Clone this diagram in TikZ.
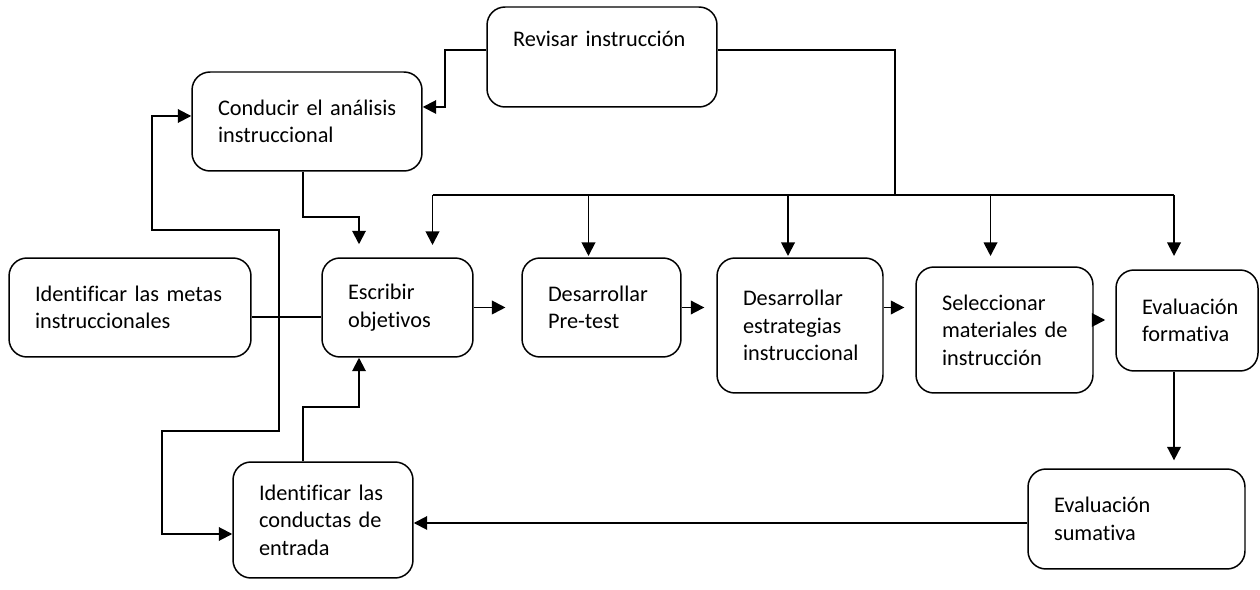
\documentclass[tikz,border=0pt]{standalone}
\usepackage{fontspec}
\setmainfont{Carlito}[Ligatures=NoCommon]
\usetikzlibrary{arrows.meta}
\hyphenpenalty=10000
\exhyphenpenalty=10000
\def\pxu{0.02cm}

\begin{document}
\begin{tikzpicture}
		[x=0.02cm, y=-0.02cm, >={Triangle[length=0.27cm, width=0.27cm]},
		 box/.style={draw, line width=0.85pt, rounded corners=0.36cm, align=left, inner xsep=0.52cm, inner ysep=2pt, font=\fontsize{12.7}{15.6}\selectfont},
		 link/.style={line width=1.1pt},
		 arr/.style={link, ->}]
		\useasboundingbox (0,0) rectangle (1260,590);

		% draw the boxes
		\node[box, text width=3.56cm, minimum height=2cm] (rev) at (602,57) {Revisar~instrucción\\\strut};
		\node[box, text width=3.56cm, minimum height=1.98cm] (cond) at (307,121.5) {Conducir~el~análisis\\instruccional};
		\node[box, text width=3.8cm, minimum height=1.98cm] (metas) at (130,307.5) {Identificar~las~metas\\instruccionales};
		\node[box, text width=1.98cm, minimum height=1.98cm] (escr) at (397.5,307.5) {Escribir\\objetivos};
		\node[box, text width=2.14cm, minimum height=1.98cm] (pre) at (601.5,307.5) {Desarrollar\\Pre-test};
		\node[box, text width=2.28cm, minimum height=2.7cm] (estr) at (800,325.5) {Desarrollar\\estrategias\\instruccional};
		\node[box, text width=2.5cm, minimum height=2.52cm] (sel) at (1004.5,330) {Seleccionar\\materiales~de\\instrucción};
		\node[box, text width=1.8cm, minimum height=2.02cm] (form) at (1187,320.5) {Evaluación\\formativa};
		\node[box, text width=2.56cm, minimum height=2.32cm] (ent) at (323,520) {Identificar~las\\conductas~de\\entrada};
		\node[box, text width=3.3cm, minimum height=2cm] (sum) at (1136.5,519) {Evaluación\\sumativa};

		% revision goes back to the analysis and down to the bus
		\coordinate (bus) at (895,195);
		\draw[arr] ([yshift=7*\pxu]rev.west) -- ++(-41,0) |- ([yshift=14.5*\pxu]cond.east);
		\draw[link] ([yshift=7*\pxu]rev.east) -| (bus);
		\draw[link] ([xshift=35*\pxu]escr.north |- bus) -- ([xshift=-13*\pxu]form.north |- bus);
		\foreach \n/\dx/\len in {escr/35/50, pre/-13/61, estr/-12/61, sel/-14/61, form/-13/61}
			\draw[arr] ([xshift=\dx*\pxu]\n.north |- bus) -- ++(0,\len);

		% left loop to the analysis and entry boxes
		\draw[link, <->] ([yshift=5.5*\pxu]cond.west) -- ++(-39,0) -- ++(0,114) -- ++(127,0) -- ++(0,201) -- ++(-117,0) |- ([yshift=-14*\pxu]ent.west);

		% links into the writing box
		\draw[arr] ([xshift=-4*\pxu]cond.south) -- ++(0,45) -| ([xshift=-38.5*\pxu, yshift=13*\pxu]escr.north);
		\draw[arr] ([xshift=-20*\pxu]ent.north) -- ++(0,-54) -| ([xshift=-38.5*\pxu]escr.south);
		\draw[link] ([yshift=-9.5*\pxu]metas.east) -- ([yshift=-9.5*\pxu]escr.west);

		% the main chain
		\draw[arr, shorten >=9pt] (escr.east) -- (pre.west);
		\draw[arr, shorten >=6.8pt] (pre.east) -- (pre.east -| estr.west);
		\draw[arr, shorten >=6.2pt] ([yshift=18*\pxu]estr.east) -- ([yshift=18*\pxu]estr.east -| sel.west);
		\draw[arr, shorten >=5.7pt] ([yshift=10*\pxu]sel.east) -- ([yshift=10*\pxu]sel.east -| form.west);
		\draw[arr, shorten >=4.5pt] ([xshift=-13*\pxu]form.south) -- ([xshift=-13*\pxu]form.south |- sum.north);
		\draw[arr] ([yshift=-4*\pxu]sum.west) -- ([yshift=-4*\pxu]sum.west -| ent.east);
	\end{tikzpicture}
\end{document}
